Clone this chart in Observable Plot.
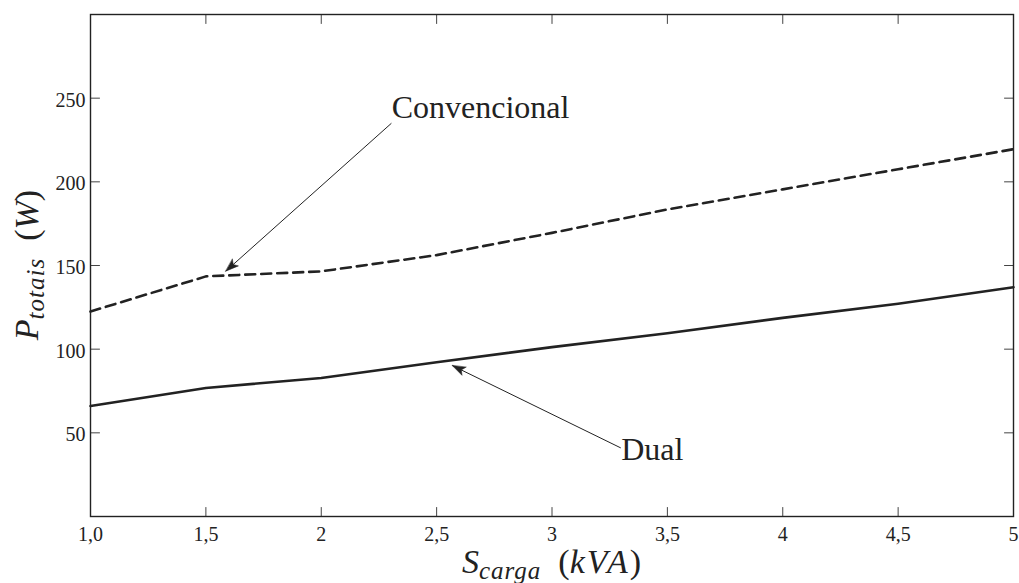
<!DOCTYPE html>
<html><head><meta charset="utf-8">
<script src="https://cdn.jsdelivr.net/npm/d3@7"></script>
<script src="https://cdn.jsdelivr.net/npm/@observablehq/plot@0.6"></script>
<style>body{margin:0;background:#fff} svg{font-family:"Liberation Serif",serif;background:#fff}</style>
</head><body><div id="chart"></div>
<script>
const sCarga = [1.0, 1.5, 2.0, 2.5, 3.0, 3.5, 4.0, 4.5, 5.0];
const pConvencional = [122.5, 143.5, 146.5, 156.2, 169.5, 183.5, 195.5, 207.5, 219.5];
const pDual = [66, 76.8, 82.8, 92.2, 101.2, 109.5, 118.7, 127.1, 137];
const xTicks = [1, 1.5, 2, 2.5, 3, 3.5, 4, 4.5, 5];
const xTickLabels = ["1,0", "1,5", "2", "2,5", "3", "3,5", "4", "4,5", "5"];
const yTicks = [50, 100, 150, 200, 250];
const annotLabels = ["Convencional", "Dual"];
const annotTextX = [2.305, 3.30];
const annotTextY = [244.5, 40];
const arrowFromX = [2.304, 3.298];
const arrowFromY = [235, 41];
const arrowToX = [1.586, 2.568];
const arrowToY = [146.6, 90.2];

const W = 1019, H = 583, mL = 90, mR = 6, mT = 14, mB = 67;
const ink = "#222";
const conv = sCarga.map((x, i) => ({x, y: pConvencional[i]}));
const dual = sCarga.map((x, i) => ({x, y: pDual[i]}));
const idx = annotLabels.map((_, i) => i);
const tickShape = {draw(context, l) { context.moveTo(0, 0); context.lineTo(0, -l); }};
const headShape = {draw(context, l) {
  context.moveTo(0, -l); context.lineTo(-4.5, 0); context.lineTo(0, -3); context.lineTo(4.5, 0); context.closePath();
}};
const tk = {length: 9, anchor: "start", shape: tickShape, stroke: "#444", strokeWidth: 1};
// pixel-per-unit factors derived from the layout, for the arrowhead direction
const kx = (W - mL - mR) / 4, ky = (H - mT - mB) / 300;
const headAngle = i => Math.atan2((arrowToX[i] - arrowFromX[i]) * kx, (arrowToY[i] - arrowFromY[i]) * ky) * 180 / Math.PI;

const svg = Plot.plot({
  width: W, height: H,
  marginLeft: mL, marginRight: mR, marginTop: mT, marginBottom: mB,
  x: {domain: [1, 5]},
  y: {domain: [0, 300]},
  style: {fontFamily: '"Liberation Serif", serif', fontSize: "20px", color: ink, background: "#fff"},
  marks: [
    Plot.axisX(xTicks, {tickSize: 0, tickPadding: 10, fontSize: 20, label: null,
      tickFormat: d => xTickLabels[xTicks.indexOf(d)]}),
    Plot.axisY(yTicks, {tickSize: 0, tickPadding: 5, fontSize: 20, label: null, dy: 2}),
    Plot.vector(xTicks, {x: d => d, frameAnchor: "bottom", rotate: 0, ...tk}),
    Plot.vector(xTicks, {x: d => d, frameAnchor: "top", rotate: 180, ...tk}),
    Plot.vector(yTicks, {y: d => d, frameAnchor: "left", rotate: 90, ...tk}),
    Plot.vector(yTicks, {y: d => d, frameAnchor: "right", rotate: -90, ...tk}),
    Plot.line(conv, {x: "x", y: "y", stroke: ink, strokeWidth: 2.6, strokeDasharray: "10,6"}),
    Plot.line(dual, {x: "x", y: "y", stroke: ink, strokeWidth: 2.6}),
    Plot.link(idx, {x1: i => arrowFromX[i], y1: i => arrowFromY[i], x2: i => arrowToX[i], y2: i => arrowToY[i],
      stroke: ink, strokeWidth: 1}),
    Plot.vector(idx, {x: i => arrowToX[i], y: i => arrowToY[i], rotate: i => headAngle(i), length: 13,
      anchor: "end", shape: headShape, fill: ink, stroke: ink, strokeWidth: 0.5}),
    Plot.text(idx, {x: i => annotTextX[i], y: i => annotTextY[i], text: i => annotLabels[i],
      textAnchor: "start", lineAnchor: "middle", fontSize: 32, fill: ink}),
    Plot.frame({stroke: ink, strokeWidth: 1.4})
  ]
});

const s = d3.select(svg);
const cx = mL + (W - mL - mR) / 2;
const cy = mT + (H - mT - mB) / 2;
const xl = s.append("text").attr("x", cx).attr("y", 573).attr("text-anchor", "middle")
  .attr("font-size", 34).attr("fill", ink).attr("font-family", '"Liberation Serif", serif');
xl.append("tspan").attr("font-style", "italic").text("S");
xl.append("tspan").attr("font-style", "italic").attr("font-size", 25).attr("dy", 6).attr("letter-spacing", 1).text("carga");
xl.append("tspan").attr("dy", -6).text("\u2002(");
xl.append("tspan").attr("font-style", "italic").attr("letter-spacing", 2).text("kVA");
xl.append("tspan").text(")");

const yl = s.append("text").attr("transform", `translate(38,${cy}) rotate(-90)`).attr("text-anchor", "middle")
  .attr("font-size", 34).attr("fill", ink).attr("font-family", '"Liberation Serif", serif');
yl.append("tspan").attr("font-style", "italic").text("P");
yl.append("tspan").attr("font-style", "italic").attr("font-size", 25).attr("dy", 6).attr("letter-spacing", 1).text("totais");
yl.append("tspan").attr("dy", -6).text("\u2002(");
yl.append("tspan").attr("font-style", "italic").text("W");
yl.append("tspan").text(")");

document.getElementById("chart").appendChild(svg);
</script>
</body></html>
